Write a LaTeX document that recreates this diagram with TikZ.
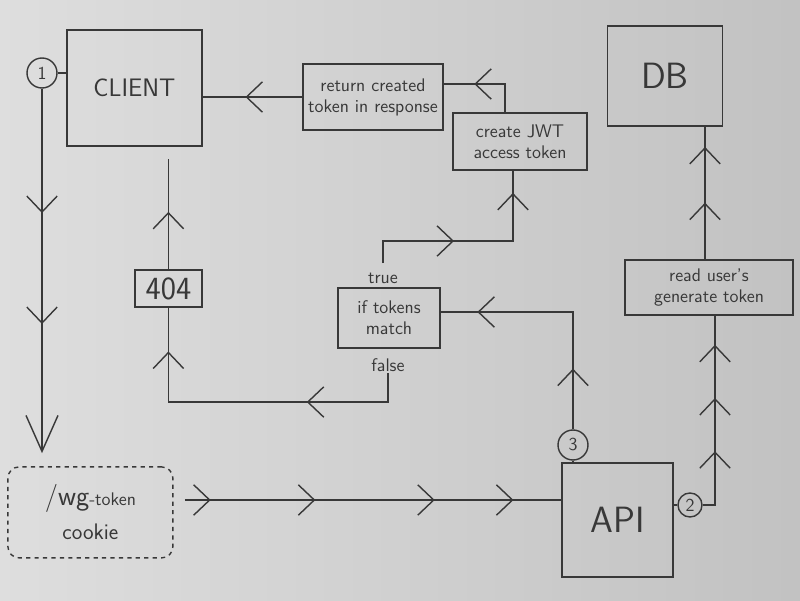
\documentclass[tikz,border=0pt]{standalone}
\usepackage{tikz}
\usetikzlibrary{decorations.markings}
\definecolor{ink}{gray}{0.22}
\definecolor{paperlight}{gray}{0.87}
\definecolor{paperdark}{gray}{0.76}
\pgfkeys{/pgf/decoration/tip at/.style={mark=at position #1 with {\draw[pen] (-4mm,3.8mm) -- (0,0) -- (-4mm,-3.8mm);}}}
\pgfkeys{/pgf/decoration/big tip/.style={mark=at position 1 with {\draw[pen] (-9mm,4mm) -- (0,0) -- (-9mm,-4mm);}}}
\tikzset{
    pen/.style={draw=ink, line width=1pt},
    box/.style={pen, inner sep=2pt, align=center},
    note/.style={font=\sffamily\fontsize{13}{15}\selectfont},
    num/.style={pen, circle, inner sep=0pt, minimum size=0.75cm, note},
    tips/.style={postaction={decorate}, decoration={markings, tip at/.list={#1}}},
}
\begin{document}
\begin{tikzpicture}[text=ink]
    \shade[left color=paperlight, right color=paperdark] (0,0) rectangle (20,15);
    \useasboundingbox (0,0) rectangle (20,15);
    \node[box, minimum width=3.375cm, minimum height=2.9cm, font=\sffamily\fontsize{18}{22}\selectfont] (client) at (3.36,12.8) {CLIENT};
    \node[num] (one) at (1.05,13.175) {1};
    \node[box, minimum width=2.875cm, minimum height=2.5cm, font=\sffamily\fontsize{26}{30}\selectfont] (db) at (16.625,13.1) {DB};
    \node[box, note, minimum width=3.5cm, minimum height=1.65cm] (ret) at (9.325,12.575) {return created\\token in response};
    \node[box, note, minimum width=3.35cm, minimum height=1.425cm] (jwt) at (13.0,11.46) {create JWT\\access token};
    \node[box, minimum width=1.675cm, minimum height=0.925cm, font=\sffamily\fontsize{23}{26}\selectfont] (e404) at (4.21,7.79) {404};
    \node[box, note, minimum width=2.55cm, minimum height=1.5cm] (check) at (9.725,7.05) {if tokens\\match};
    \node[note, inner sep=1pt] (yes) at (9.575,8.05) {true};
    \node[note, inner sep=1pt] (no) at (9.7,5.875) {false};
    \node[box, note, minimum width=4.2cm, minimum height=1.375cm] (read) at (17.725,7.81) {read user's\\generate token};
    \node[box, dashed, rounded corners=8pt, minimum width=4.125cm, minimum height=2.275cm, font=\sffamily\fontsize{13}{24}\selectfont] (cookie) at (2.26,2.19) {{\fontsize{20}{24}\selectfont /wg}-token\\{\fontsize{16}{20}\selectfont cookie}};
    \node[box, minimum width=2.775cm, minimum height=2.85cm, font=\sffamily\fontsize{26}{30}\selectfont] (api) at (15.44,2.0) {API};
    \node[num] (three) at (14.325,3.875) {3};
    \node[num, minimum size=0.6cm] (two) at (17.25,2.375) {2};
    \draw[pen] (one.east) -- (one -| client.west);
    \draw[pen, postaction={decorate}, decoration={markings, tip at/.list={0.34,0.646}, big tip}] (one.south) -- ([yshift=3.7mm]one.south |- cookie.north);
    \draw[pen, tips={0.066,0.344,0.661,0.87}] ([shift={(2.8mm,3.1mm)}]cookie.east) -- ([yshift=3.1mm]cookie.east -| api.west);
    \draw[pen] (three.south) -- (three.south |- api.north);
    \draw[pen, tips={0.239,0.849}] (three.north) |- ([yshift=1.5mm]check.east);
    \draw[pen, tips={0.414,0.896}] ([yshift=2mm]yes.north) -- ++(0,0.55) -| ([xshift=-1.75mm]jwt.south);
    \draw[pen, tips={0.648}] ([xshift=-3.75mm]jwt.north) |- ([yshift=3.25mm]ret.east);
    \draw[pen, tips={0.56}] (ret.west) -- (ret.west -| client.east);
    \draw[pen, tips={0.51}] (e404.north) -- ([yshift=-3mm]e404.north |- client.south);
    \draw[pen, tips={0.318,0.869}] (no.south) -- ++(0,-0.72) -| (e404.south);
    \draw[pen] (api.east |- two.west) -- (two.west);
    \draw[pen, tips={0.323,0.587,0.851}] (two.east) -| ([xshift=1.5mm]read.south);
    \draw[pen, tips={0.42,0.84}] ([xshift=-1mm]read.north) -- ([xshift=-1mm]read.north |- db.south);
\end{tikzpicture}
\end{document}
